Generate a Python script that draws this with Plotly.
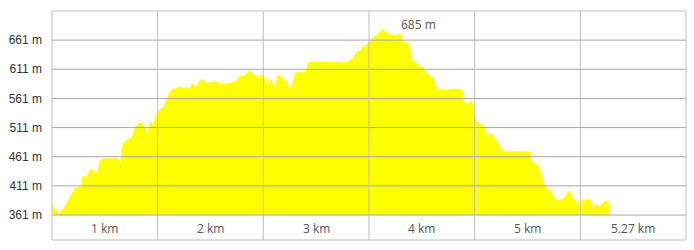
import plotly.graph_objects as go

# Elevation profile
distance_km = [
    0.000, 0.012, 0.044, 0.059, 0.075, 0.107, 0.132, 0.154, 0.186, 0.217,
    0.248, 0.280, 0.286, 0.311, 0.327, 0.358, 0.390, 0.415, 0.437, 0.453,
    0.500, 0.547, 0.610, 0.635, 0.648, 0.658, 0.673, 0.720, 0.752, 0.783,
    0.814, 0.846, 0.877, 0.903, 0.925, 0.941, 0.956, 0.988, 1.019, 1.050,
    1.082, 1.113, 1.144, 1.208, 1.271, 1.302, 1.327, 1.365, 1.396, 1.427,
    1.459, 1.491, 1.554, 1.616, 1.679, 1.742, 1.774, 1.821, 1.868, 1.899,
    1.931, 1.962, 1.978, 2.009, 2.025, 2.041, 2.057, 2.073, 2.088, 2.110,
    2.135, 2.167, 2.198, 2.229, 2.255, 2.276, 2.292, 2.308, 2.403, 2.425,
    2.544, 2.701, 2.795, 2.827, 2.858, 2.890, 2.915, 2.937, 2.969, 3.000,
    3.031, 3.063, 3.094, 3.125, 3.142, 3.173, 3.205, 3.236, 3.267, 3.299,
    3.314, 3.330, 3.377, 3.393, 3.408, 3.441, 3.472, 3.503, 3.535, 3.566,
    3.597, 3.629, 3.644, 3.676, 3.755, 3.786, 3.849, 3.880, 3.896, 3.912,
    3.943, 3.969, 3.991, 4.007, 4.022, 4.054, 4.085, 4.101, 4.116, 4.148,
    4.179, 4.210, 4.242, 4.267, 4.525, 4.541, 4.573, 4.604, 4.635, 4.651,
    4.682, 4.714, 4.745, 4.776, 4.808, 4.840, 4.871, 4.903, 4.918, 4.950,
    4.965, 4.981, 4.997, 5.012, 5.044, 5.075, 5.107, 5.123, 5.148, 5.186,
    5.217, 5.242, 5.257, 5.274,
]
elevation_m = [
    381, 375, 368, 364, 365, 372, 378, 387, 397, 407,
    409, 410, 427, 427, 424, 439, 438, 430, 439, 455,
    459, 457, 459, 455, 447, 473, 484, 491, 493, 509,
    518, 519, 511, 496, 519, 522, 513, 534, 542, 545,
    558, 572, 577, 580, 578, 577, 587, 580, 591, 594,
    586, 589, 589, 585, 587, 590, 600, 600, 608, 603,
    599, 596, 602, 597, 583, 596, 583, 594, 586, 580,
    601, 599, 594, 588, 574, 586, 600, 606, 606, 623,
    624, 623, 622, 628, 632, 643, 641, 649, 652, 660,
    663, 669, 672, 680, 678, 672, 670, 669, 670, 672,
    663, 658, 655, 640, 626, 623, 617, 615, 608, 600,
    597, 586, 577, 576, 576, 577, 577, 575, 557, 551,
    553, 559, 539, 530, 519, 518, 514, 504, 495, 502,
    496, 487, 476, 470, 469, 452, 450, 445, 427, 415,
    407, 404, 393, 384, 387, 389, 397, 404, 392, 387,
    378, 387, 372, 387, 385, 389, 384, 370, 378, 376,
    382, 387, 380, 383,
]

y_ticks = [361, 411, 461, 511, 561, 611, 661]
y_tick_labels = [f"{v} m" for v in y_ticks]
x_grid_km = [1, 2, 3, 4, 5]
x_label_pos = [0.5, 1.5, 2.5, 3.5, 4.5, 5.5]
x_labels = ["1 km", "2 km", "3 km", "4 km", "5 km", "5.27 km"]
peak_label = "685 m"
peak_label_km = 3.47

X_MAX = 6.0
Y_MIN, Y_MAX = 361, 711
STRIP_BOTTOM = -0.1225  # paper units below the plot area

fig = go.Figure()
fig.add_trace(go.Scatter(
    x=distance_km, y=elevation_m, mode="lines",
    line=dict(color="#ffff00", width=0.5),
    fill="tozeroy", fillcolor="#ffff00",
    hoverinfo="skip", showlegend=False,
))

grid_col = "#a6a6a6"
border_col = "#bdbdbd"
shapes = []
for v in y_ticks[1:]:
    shapes.append(dict(type="line", xref="paper", yref="y", x0=0, x1=1, y0=v, y1=v,
                       line=dict(color=grid_col, width=1), layer="above"))
shapes.append(dict(type="line", xref="paper", yref="paper", x0=0, x1=1, y0=0, y1=0,
                   line=dict(color=grid_col, width=1), layer="above"))
for k in x_grid_km:
    shapes.append(dict(type="line", xref="paper", yref="paper", x0=k / X_MAX, x1=k / X_MAX,
                       y0=STRIP_BOTTOM, y1=1, line=dict(color=border_col, width=1), layer="above"))
shapes.append(dict(type="rect", xref="paper", yref="paper", x0=0, x1=1, y0=STRIP_BOTTOM, y1=1,
                   line=dict(color=border_col, width=1), fillcolor="rgba(0,0,0,0)", layer="above"))

annotations = []
for pos, lab in zip(x_label_pos, x_labels):
    annotations.append(dict(x=pos, xref="x", y=-0.066, yref="paper", text=lab, showarrow=False,
                            xanchor="center", yanchor="middle",
                            font=dict(family="Open Sans", size=12, color="#555555")))
annotations.append(dict(x=peak_label_km, xref="x", y=0.934, yref="paper", text=peak_label,
                        showarrow=False, xanchor="center", yanchor="middle",
                        font=dict(family="Open Sans", size=12, color="#555555")))

fig.update_layout(
    width=694, height=250,
    margin=dict(l=52, r=8, t=11, b=35),
    paper_bgcolor="white", plot_bgcolor="white",
    shapes=shapes, annotations=annotations,
    xaxis=dict(range=[0, X_MAX], showgrid=False, zeroline=False, showticklabels=False,
               showline=False, fixedrange=True),
    yaxis=dict(range=[Y_MIN, Y_MAX], tickvals=y_ticks, ticktext=y_tick_labels,
               showgrid=False, zeroline=False, showline=False, ticks="",
               ticklabelstandoff=9,
               tickfont=dict(family="Liberation Sans", size=12, color="#333333"),
               fixedrange=True),
)

fig.write_html("out.html")
